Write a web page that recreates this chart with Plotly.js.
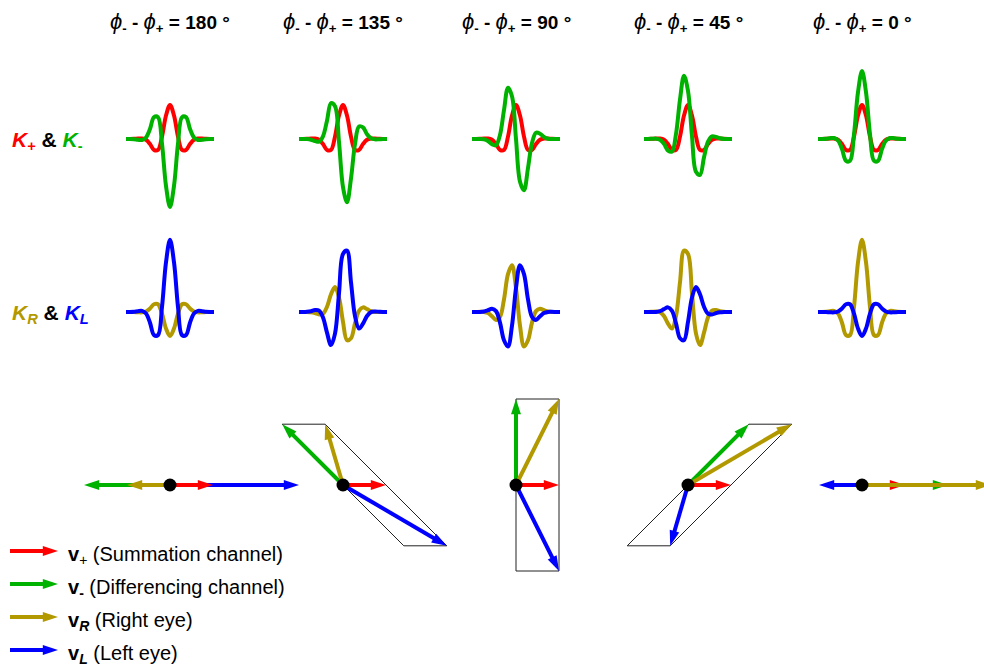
<!DOCTYPE html>
<html><head><meta charset="utf-8">
<script src="https://cdn.plot.ly/plotly-3.0.1.min.js"></script>
<style>html,body{margin:0;padding:0;background:#fff;overflow:hidden}#chart{width:1000px;height:667px}</style>
</head><body><div id="chart"></div>
<script>
// ---------- DATA ----------
const phaseDiffs = ['180', '135', '90', '45', '0'];
// sample positions along each receptive-field profile
const samples = [-11,-10,-9,-8,-7,-6,-5,-4,-3,-2,-1,0,1,2,3,4,5,6,7,8,9,10,11];
// summation channel K+ (same in all columns)
const Kplus = [0,0,0.002,0.006,0.008,-0.011,-0.074,-0.161,-0.161,0.035,0.345,0.5,0.345,0.035,-0.161,-0.161,-0.074,-0.011,0.008,0.006,0.002,0,0];
// differencing channel K- per column
const Kminus180 = [0,0,-0.003,-0.011,-0.015,0.022,0.148,0.321,0.321,-0.070,-0.689,-1,-0.689,-0.070,0.321,0.321,0.148,0.022,-0.015,-0.011,-0.003,0,0];
const Kminus135 = [0,0.001,-0.001,-0.011,-0.031,-0.040,0.040,0.269,0.528,0.483,-0.043,-0.707,-0.931,-0.582,-0.074,0.185,0.170,0.071,0.010,-0.005,-0.003,-0.001,0];
const Kminus90  = [0,0.001,0.001,-0.004,-0.029,-0.078,-0.092,0.060,0.426,0.753,0.628,0,-0.628,-0.753,-0.426,-0.060,0.092,0.078,0.029,0.004,-0.001,-0.001,0];
const Kminus45  = [0,0.001,0.003,0.005,-0.010,-0.071,-0.170,-0.185,0.074,0.582,0.931,0.707,0.043,-0.483,-0.528,-0.269,-0.040,0.040,0.031,0.011,0.001,-0.001,0];
const Kminus0   = [0,0,0.003,0.011,0.015,-0.022,-0.148,-0.321,-0.321,0.070,0.689,1,0.689,0.070,-0.321,-0.321,-0.148,-0.022,0.015,0.011,0.003,0,0];
// right eye K_R per column
const KR180 = [0,0,-0.001,-0.004,-0.005,0.008,0.052,0.114,0.114,-0.025,-0.244,-0.354,-0.244,-0.025,0.114,0.114,0.052,0.008,-0.005,-0.004,-0.001,0,0];
const KR135 = [0,0.001,0.001,-0.004,-0.017,-0.036,-0.024,0.077,0.260,0.367,0.213,-0.146,-0.415,-0.387,-0.166,0.017,0.068,0.042,0.013,0,-0.001,-0.001,0];
const KR90  = [0,0.001,0.002,0.001,-0.016,-0.063,-0.117,-0.072,0.187,0.557,0.688,0.354,-0.200,-0.507,-0.415,-0.156,0.013,0.047,0.026,0.007,0,-0.001,0];
const KR45  = [0,0.001,0.004,0.007,-0.002,-0.058,-0.172,-0.244,-0.061,0.437,0.902,0.854,0.274,-0.317,-0.487,-0.304,-0.080,0.020,0.028,0.011,0.002,-0.001,0];
const KR0   = [0,0,0.003,0.012,0.016,-0.023,-0.157,-0.340,-0.340,0.074,0.731,1.061,0.731,0.074,-0.340,-0.340,-0.157,-0.023,0.016,0.012,0.003,0,0];
// left eye K_L per column
const KL180 = [0,0,0.003,0.012,0.016,-0.023,-0.157,-0.340,-0.340,0.074,0.731,1.061,0.731,0.074,-0.340,-0.340,-0.157,-0.023,0.016,0.012,0.003,0,0];
const KL135 = [0,-0.001,0.002,0.011,0.028,0.020,-0.080,-0.304,-0.487,-0.317,0.274,0.854,0.902,0.437,-0.061,-0.244,-0.172,-0.058,-0.002,0.007,0.004,0.001,0];
const KL90  = [0,-0.001,0,0.007,0.026,0.047,0.013,-0.156,-0.415,-0.507,-0.200,0.354,0.688,0.557,0.187,-0.072,-0.117,-0.063,-0.016,0.001,0.002,0.001,0];
const KL45  = [0,-0.001,-0.001,0,0.013,0.042,0.068,0.017,-0.166,-0.387,-0.415,-0.146,0.213,0.367,0.260,0.077,-0.024,-0.036,-0.017,-0.004,0.001,0.001,0];
const KL0   = [0,0,-0.001,-0.004,-0.005,0.008,0.052,0.114,0.114,-0.025,-0.244,-0.354,-0.244,-0.025,0.114,0.114,0.052,0.008,-0.005,-0.004,-0.001,0,0];
// vectors (x, y components) per column
const vPlusX  = [0.5, 0.5, 0.5, 0.5, 0.5];
const vPlusY  = [0, 0, 0, 0, 0];
const vMinusX = [-1, -0.707, 0, 0.707, 1];
const vMinusY = [0, 0.707, 1, 0.707, 0];
const vRX = [-0.5, -0.207, 0.5, 1.207, 1.5];
const vRY = [0, 0.707, 1, 0.707, 0];
const vLX = [1.5, 1.207, 0.5, -0.207, -0.5];
const vLY = [0, -0.707, -1, -0.707, 0];
// parallelogram frame drawn only where it has area
const showFrame = [false, true, true, true, false];
// legend labels
const legendLabels = [
  '<b>v</b><sub>+</sub> (Summation channel)',
  '<b>v</b><sub><b>-</b></sub> (Differencing channel)',
  '<b>v</b><sub><b><i>R</i></b></sub> (Right eye)',
  '<b>v</b><sub><b><i>L</i></b></sub> (Left eye)'
];

const KminusAll = [Kminus180, Kminus135, Kminus90, Kminus45, Kminus0];
const KRAll = [KR180, KR135, KR90, KR45, KR0];
const KLAll = [KL180, KL135, KL90, KL45, KL0];

// ---------- STYLE / LAYOUT ----------
const RED = '#ff0000', GREEN = '#00b200', GOLD = 'rgb(178,153,0)', BLUE = '#0000ff';
const legendColors = [RED, GREEN, GOLD, BLUE];
const PW = 1000, H = 667;   // paper is a bit wider than the 984px window so the last arrow runs off the edge
const colCx = [170, 343, 516, 688, 862];
const row1Y = 139, row2Y = 312, vecY = 485;
const pxPerSample = 4, pxPerUnit = 68, vecScale = 86;
const FONT = 'Liberation Sans, Arial, Helvetica, sans-serif';

const traces = [];
const layout = {
  width: PW, height: H, margin: {l:0, r:0, t:0, b:0},
  paper_bgcolor: '#fff', plot_bgcolor: 'rgba(0,0,0,0)',
  showlegend: false, hovermode: false,
  font: {family: FONT, color: '#000', size: 18},
  annotations: []
};
let n = 0;
function addAxes(x0, x1, y0, y1, xr, yr) {
  n++;
  const xa = n === 1 ? 'xaxis' : 'xaxis' + n, ya = n === 1 ? 'yaxis' : 'yaxis' + n;
  const xs = n === 1 ? 'x' : 'x' + n, ys = n === 1 ? 'y' : 'y' + n;
  layout[xa] = {visible: false, fixedrange: true, domain: [x0 / PW, x1 / PW], range: xr, anchor: ys};
  layout[ya] = {visible: false, fixedrange: true, domain: [1 - y1 / H, 1 - y0 / H], range: yr, anchor: xs};
  return {xaxis: xs, yaxis: ys};
}
function curve(ax, y, color) {
  return Object.assign({x: samples, y: y, type: 'scatter', mode: 'lines',
    line: {color: color, width: 4, shape: 'spline'}, hoverinfo: 'skip'}, ax);
}
function arrow(ax, xs, ys, color) {
  return Object.assign({x: xs, y: ys, type: 'scatter', mode: 'lines+markers', cliponaxis: false,
    line: {color: color, width: 4},
    marker: {symbol: 'arrow', size: [0, 16], opacity: 1, angleref: 'previous', color: color, line: {width: 0}},
    hoverinfo: 'skip'}, ax);
}

const halfW = 12.5 * pxPerSample, halfH = 80;
for (let c = 0; c < 5; c++) {
  const cx = colCx[c];
  const a1 = addAxes(cx - halfW, cx + halfW, row1Y - halfH, row1Y + halfH, [-12.5, 12.5], [-halfH / pxPerUnit, halfH / pxPerUnit]);
  traces.push(curve(a1, Kplus, RED));
  traces.push(curve(a1, KminusAll[c], GREEN));
  const a2 = addAxes(cx - halfW, cx + halfW, row2Y - halfH, row2Y + halfH, [-12.5, 12.5], [-halfH / pxPerUnit, halfH / pxPerUnit]);
  traces.push(curve(a2, KRAll[c], GOLD));
  traces.push(curve(a2, KLAll[c], BLUE));

  // vector diagram
  const vx0 = Math.max(0, cx - 137), vx1 = Math.min(PW, cx + 137);
  const a3 = addAxes(vx0, vx1, vecY - 100, vecY + 100, [(vx0 - cx) / vecScale, (vx1 - cx) / vecScale], [-100 / vecScale, 100 / vecScale]);
  if (showFrame[c]) {
    traces.push(Object.assign({
      x: [vMinusX[c], vRX[c], vLX[c], -vMinusX[c], vMinusX[c]],
      y: [vMinusY[c], vRY[c], vLY[c], -vMinusY[c], vMinusY[c]],
      type: 'scatter', mode: 'lines', line: {color: '#222', width: 1}, cliponaxis: false, hoverinfo: 'skip'}, a3));
  }
  traces.push(arrow(a3, [0, vLX[c]], [0, vLY[c]], BLUE));
  traces.push(arrow(a3, [0, vPlusX[c]], [0, vPlusY[c]], RED));
  traces.push(arrow(a3, [0, vMinusX[c]], [0, vMinusY[c]], GREEN));
  traces.push(arrow(a3, [0, vRX[c]], [0, vRY[c]], GOLD));
  traces.push(Object.assign({x: [0], y: [0], type: 'scatter', mode: 'markers', cliponaxis: false,
    marker: {size: 13, color: '#000'}, hoverinfo: 'skip'}, a3));

  layout.annotations.push({
    xref: 'paper', yref: 'paper', x: cx / PW, y: 1 - 23 / H, xanchor: 'center', yanchor: 'middle', showarrow: false,
    font: {size: 19, family: FONT, color: '#000'},
    text: '<span style="font-size:22px"><i>ϕ</i></span><sub><b>-</b></sub><b> - </b><span style="font-size:22px"><i>ϕ</i></span><sub><b>+</b></sub><b> = ' + phaseDiffs[c] + ' °</b>'
  });
}

// legend keys
const aL = addAxes(10, 58, 540, 661, [0, 1], [3 + 11 / 33, -11 / 33]);
for (let i = 0; i < 4; i++) {
  traces.push(arrow(aL, [0, 1], [i, i], legendColors[i]));
  layout.annotations.push({
    xref: 'paper', yref: 'paper', x: 66 / PW, y: 1 - (555 + 33 * i) / H, xanchor: 'left', yanchor: 'middle',
    showarrow: false, font: {size: 20, family: FONT, color: '#000'}, text: legendLabels[i]
  });
}

// row labels
layout.annotations.push({
  xref: 'paper', yref: 'paper', x: 10 / PW, y: 1 - 141 / H, xanchor: 'left', yanchor: 'middle', showarrow: false,
  font: {size: 21, family: FONT},
  text: '<span style="color:' + RED + '"><b><i>K</i></b><sub><b>+</b></sub></span><b> &amp; </b><span style="color:' + GREEN + '"><b><i>K</i></b><sub><b>-</b></sub></span>'
});
layout.annotations.push({
  xref: 'paper', yref: 'paper', x: 10 / PW, y: 1 - 314 / H, xanchor: 'left', yanchor: 'middle', showarrow: false,
  font: {size: 21, family: FONT},
  text: '<span style="color:' + GOLD + '"><b><i>K</i></b><sub><b><i>R</i></b></sub></span><b> &amp; </b><span style="color:' + BLUE + '"><b><i>K</i></b><sub><b><i>L</i></b></sub></span>'
});

Plotly.newPlot('chart', traces, layout, {staticPlot: true, displayModeBar: false});
</script>
</body></html>
